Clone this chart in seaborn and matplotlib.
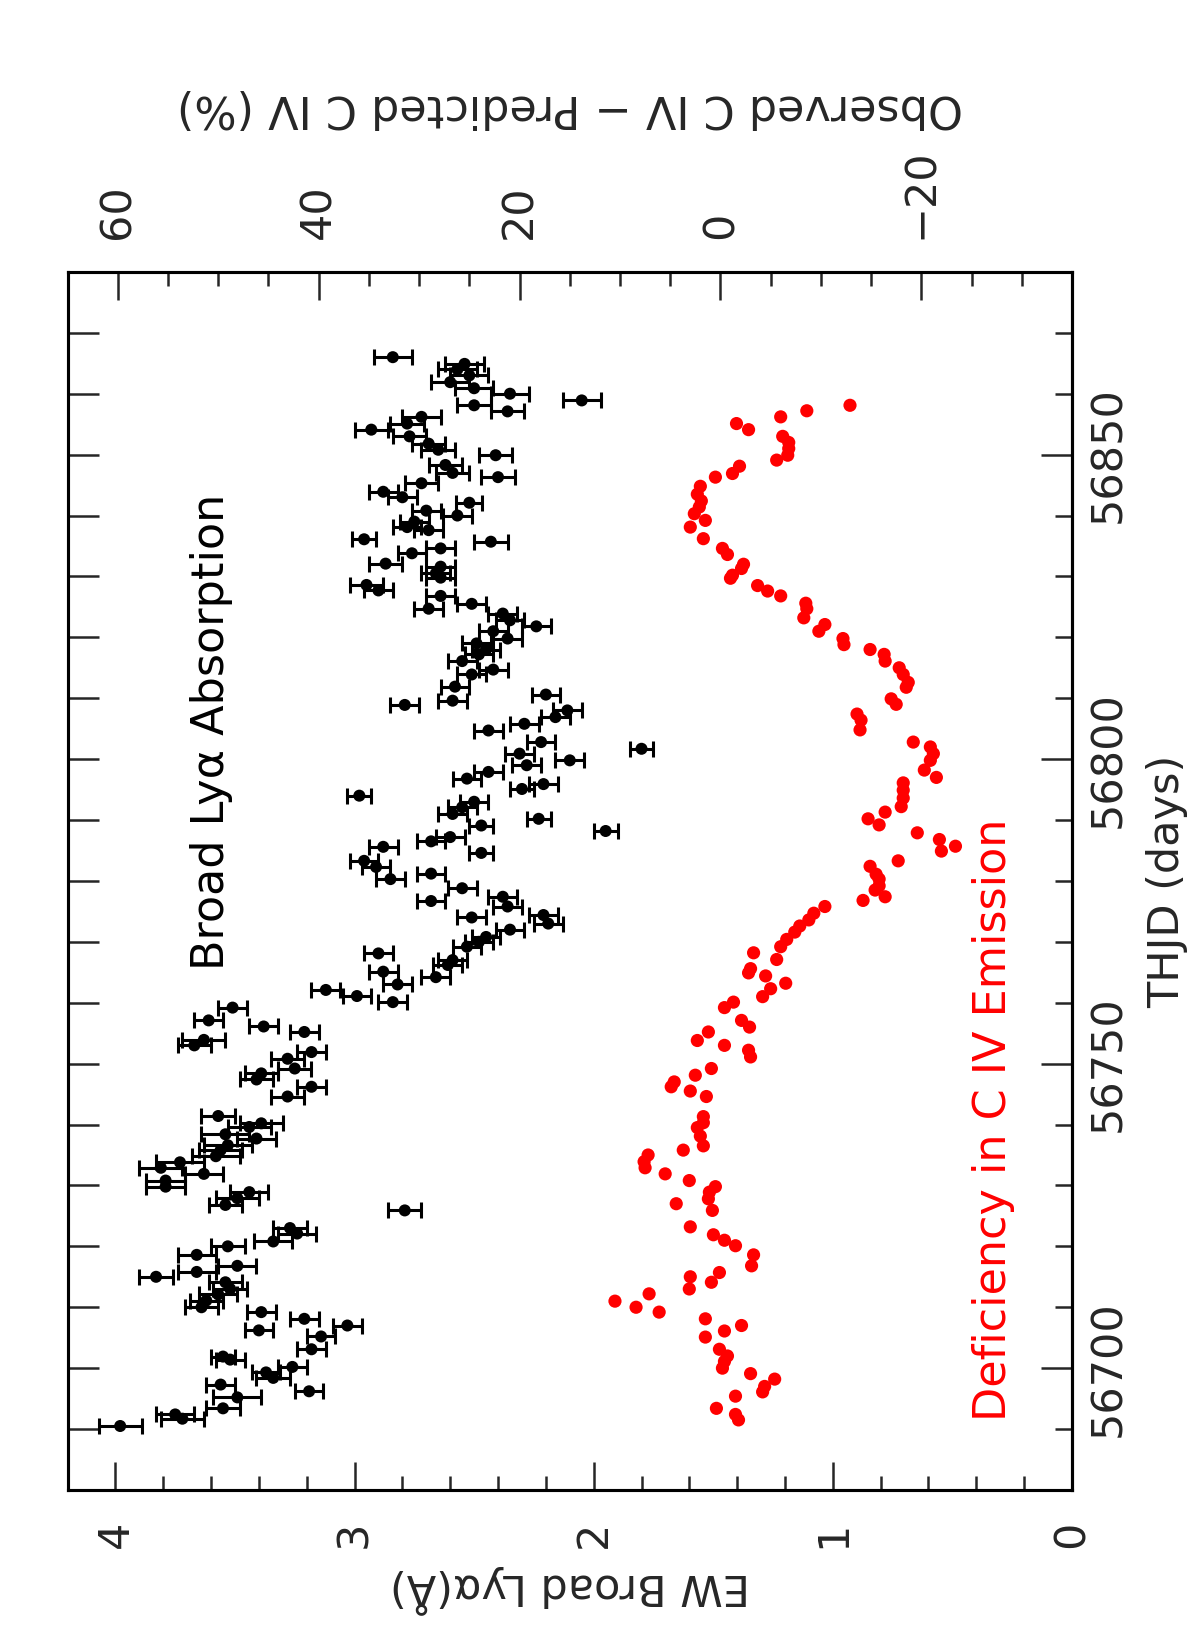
import matplotlib
matplotlib.use("Agg")
import matplotlib.pyplot as plt
import seaborn as sns
import pandas as pd
from matplotlib.ticker import MultipleLocator, FixedLocator

# Broad Ly-alpha absorption: time (THJD), equivalent width (A) and its error
thjd_lya = [56690.5, 56691.7, 56692.4, 56693.4, 56695.2, 56696.2, 56697.3, 56698.4, 56699.3, 56700.2,
            56701.4, 56701.9, 56703.1, 56705.2, 56706.2, 56707.0, 56708.1, 56709.2, 56710.0, 56711.1,
            56712.1, 56713.0, 56714.1, 56715.0, 56715.8, 56716.8, 56718.6, 56720.0, 56720.8, 56722.1,
            56723.0, 56725.9, 56726.8, 56727.9, 56728.9, 56729.8, 56730.8, 56731.9, 56732.9, 56733.8,
            56734.8, 56735.8, 56736.6, 56737.7, 56738.4, 56739.6, 56740.2, 56741.4, 56744.6, 56746.2,
            56747.4, 56748.4, 56749.2, 56750.8, 56751.9, 56753.0, 56753.9, 56755.2, 56756.1, 56757.1,
            56759.2, 56760.1, 56761.1, 56762.1, 56763.0, 56764.2, 56765.1, 56766.2, 56767.0, 56768.1,
            56769.2, 56770.0, 56770.8, 56772.0, 56773.0, 56774.0, 56774.4, 56775.8, 56776.7, 56777.4,
            56778.8, 56780.3, 56781.2, 56782.3, 56783.3, 56784.6, 56785.6, 56786.5, 56787.2, 56788.2,
            56789.1, 56790.2, 56791.0, 56792.1, 56793.0, 56794.0, 56795.1, 56795.9, 56796.8, 56797.9,
            56799.0, 56799.8, 56800.9, 56801.7, 56802.8, 56804.7, 56805.8, 56806.9, 56808.0, 56808.9,
            56809.6, 56810.6, 56811.9, 56813.9, 56814.7, 56816.1, 56817.2, 56818.0, 56819.0, 56819.8,
            56821.0, 56821.8, 56822.8, 56823.9, 56824.7, 56825.5, 56826.8, 56827.7, 56828.6, 56829.8,
            56830.5, 56831.6, 56832.1, 56833.8, 56834.6, 56835.7, 56836.1, 56837.6, 56838.1, 56839.0,
            56840.0, 56840.8, 56842.1, 56843.0, 56843.9, 56845.3, 56846.3, 56847.0, 56848.3, 56849.9,
            56850.8, 56851.8, 56853.0, 56854.1, 56855.1, 56856.2, 56857.1, 56858.1, 56858.9, 56860.0,
            56860.9, 56861.9, 56863.0, 56864.0, 56864.9, 56866.0]
ew_lya = [3.98, 3.72, 3.75, 3.55, 3.49, 3.19, 3.56, 3.34, 3.37, 3.26,
          3.52, 3.55, 3.18, 3.14, 3.40, 3.03, 3.21, 3.39, 3.64, 3.62,
          3.57, 3.52, 3.54, 3.83, 3.66, 3.49, 3.66, 3.53, 3.34, 3.24,
          3.27, 2.79, 3.54, 3.49, 3.44, 3.79, 3.79, 3.63, 3.81, 3.73,
          3.58, 3.56, 3.53, 3.41, 3.54, 3.44, 3.39, 3.57, 3.28, 3.18,
          3.41, 3.39, 3.25, 3.28, 3.18, 3.67, 3.63, 3.21, 3.38, 3.61,
          3.51, 2.84, 2.99, 3.12, 2.82, 2.66, 2.88, 2.61, 2.59, 2.90,
          2.53, 2.48, 2.45, 2.35, 2.19, 2.51, 2.21, 2.36, 2.68, 2.38,
          2.55, 2.85, 2.68, 2.91, 2.96, 2.47, 2.88, 2.68, 2.60, 1.95,
          2.47, 2.23, 2.59, 2.55, 2.50, 2.98, 2.30, 2.21, 2.53, 2.44,
          2.28, 2.10, 2.31, 1.80, 2.22, 2.44, 2.29, 2.16, 2.11, 2.79,
          2.59, 2.20, 2.58, 2.51, 2.42, 2.55, 2.48, 2.45, 2.49, 2.36,
          2.42, 2.24, 2.35, 2.38, 2.69, 2.51, 2.64, 2.90, 2.95, 2.64,
          2.66, 2.64, 2.87, 2.76, 2.64, 2.43, 2.96, 2.69, 2.78, 2.75,
          2.57, 2.70, 2.52, 2.80, 2.88, 2.72, 2.40, 2.59, 2.62, 2.41,
          2.65, 2.69, 2.77, 2.93, 2.78, 2.72, 2.36, 2.50, 2.05, 2.35,
          2.50, 2.60, 2.52, 2.57, 2.54, 2.84]
ew_err = [0.09, 0.09, 0.08, 0.07, 0.10, 0.06, 0.06, 0.07, 0.06, 0.06,
          0.06, 0.05, 0.06, 0.06, 0.06, 0.06, 0.06, 0.06, 0.07, 0.07,
          0.08, 0.07, 0.07, 0.07, 0.08, 0.08, 0.08, 0.07, 0.08, 0.08,
          0.07, 0.07, 0.07, 0.09, 0.08, 0.08, 0.08, 0.08, 0.09, 0.10,
          0.10, 0.09, 0.10, 0.08, 0.10, 0.09, 0.09, 0.07, 0.07, 0.06,
          0.07, 0.07, 0.07, 0.07, 0.06, 0.07, 0.09, 0.06, 0.06, 0.06,
          0.06, 0.06, 0.06, 0.06, 0.06, 0.06, 0.06, 0.06, 0.06, 0.06,
          0.06, 0.06, 0.06, 0.06, 0.06, 0.06, 0.06, 0.06, 0.06, 0.06,
          0.06, 0.06, 0.06, 0.06, 0.06, 0.05, 0.06, 0.06, 0.06, 0.05,
          0.05, 0.05, 0.06, 0.06, 0.06, 0.05, 0.05, 0.06, 0.06, 0.06,
          0.06, 0.06, 0.06, 0.05, 0.06, 0.06, 0.06, 0.06, 0.06, 0.06,
          0.06, 0.06, 0.06, 0.06, 0.06, 0.06, 0.06, 0.06, 0.06, 0.06,
          0.06, 0.06, 0.06, 0.06, 0.06, 0.06, 0.06, 0.06, 0.07, 0.06,
          0.06, 0.06, 0.07, 0.06, 0.06, 0.07, 0.05, 0.06, 0.06, 0.06,
          0.06, 0.06, 0.055, 0.06, 0.06, 0.07, 0.07, 0.07, 0.07, 0.07,
          0.07, 0.07, 0.07, 0.07, 0.07, 0.08, 0.07, 0.07, 0.08, 0.08,
          0.08, 0.08, 0.08, 0.08, 0.08, 0.08]

# C IV emission residual: observed - predicted (%)
thjd_civ = [56691.5, 56692.4, 56693.4, 56695.4, 56696.1, 56697.0, 56698.2, 56699.1, 56700.0, 56701.1,
            56702.0, 56703.1, 56705.1, 56706.1, 56707.0, 56708.1, 56709.2, 56710.0, 56711.0, 56712.2,
            56713.0, 56714.1, 56715.0, 56715.7, 56716.8, 56718.6, 56720.1, 56721.0, 56721.9, 56723.2,
            56725.9, 56727.0, 56727.8, 56728.9, 56729.8, 56730.8, 56731.9, 56732.9, 56733.9, 56735.0,
            56735.8, 56736.5, 56738.1, 56739.5, 56740.3, 56741.3, 56744.6, 56745.5, 56746.2, 56747.0,
            56748.1, 56749.2, 56751.1, 56752.2, 56753.0, 56753.8, 56755.2, 56756.0, 56757.1, 56759.2,
            56760.1, 56761.0, 56762.3, 56763.2, 56764.4, 56764.9, 56765.6, 56767.1, 56768.2, 56769.2,
            56770.4, 56771.6, 56772.6, 56773.6, 56774.7, 56775.8, 56776.8, 56777.4, 56778.5, 56779.2,
            56780.3, 56781.1, 56782.4, 56783.3, 56784.9, 56785.7, 56786.8, 56787.9, 56789.2, 56790.2,
            56791.3, 56792.2, 56793.6, 56794.9, 56796.1, 56797.0, 56798.2, 56799.8, 56800.9, 56802.0,
            56802.8, 56804.8, 56806.4, 56807.4, 56809.0, 56809.9, 56811.8, 56812.6, 56813.9, 56815.0,
            56816.1, 56817.2, 56818.0, 56818.8, 56819.8, 56821.0, 56822.1, 56823.2, 56824.7, 56825.6,
            56826.8, 56827.6, 56828.5, 56829.7, 56830.2, 56831.3, 56832.0, 56833.6, 56834.6, 56836.2,
            56838.1, 56839.2, 56840.3, 56841.4, 56842.4, 56843.5, 56844.8, 56846.3, 56846.9, 56848.1,
            56849.1, 56849.9, 56851.0, 56852.0, 56853.0, 56854.1, 56855.1, 56856.2, 56857.2, 56858.1]
civ_pct = [-1.8, -1.5, 0.4, -1.5, -4.2, -4.4, -5.4, -3.0, -0.2, -0.4,
           -0.7, 0.1, 1.5, -0.4, -2.1, 1.5, 6.1, 8.4, 10.5, 7.1,
           3.1, 0.9, 3.0, 0.1, -3.1, -3.3, -1.5, -0.4, 0.7, 3.0,
           0.8, 4.4, 1.2, 1.1, 0.5, 3.1, 5.5, 7.5, 7.6, 7.2,
           3.7, 1.7, 2.0, 2.3, 1.7, 1.7, 1.4, 3.0, 4.9, 4.6,
           2.5, 0.9, -3.0, -2.8, -0.4, 2.3, 1.2, -2.9, -2.1, -0.4,
           -1.3, -4.2, -5.0, -6.5, -4.5, -2.8, -3.0, -5.6, -3.3, -6.0,
           -6.6, -7.4, -7.9, -8.8, -9.3, -10.4, -14.2, -16.4, -15.4, -15.8,
           -15.8, -15.5, -14.9, -17.7, -22.0, -23.4, -21.8, -19.6, -15.8, -14.7,
           -16.4, -18.0, -18.2, -18.2, -18.2, -21.5, -20.3, -20.9, -21.2, -20.9,
           -19.2, -13.9, -14.0, -13.6, -17.5, -17.0, -18.5, -18.7, -18.2, -17.8,
           -16.4, -16.3, -14.9, -12.3, -12.2, -9.8, -10.4, -8.3, -8.6, -8.5,
           -6.0, -4.7, -3.7, -1.0, -1.2, -2.1, -2.3, -0.7, -0.2, 1.7,
           3.0, 1.5, 2.6, 2.1, 1.9, 2.3, 2.0, 0.5, -1.2, -1.9,
           -5.6, -6.7, -6.8, -6.8, -6.2, -2.8, -1.6, -6.0, -8.6, -12.9]

thjd_ticks = [56700, 56750, 56800, 56850]

lya = pd.DataFrame({"thjd": thjd_lya, "ew": ew_lya, "err": ew_err})
civ = pd.DataFrame({"thjd": thjd_civ, "pct": civ_pct})

sns.set_style("ticks", {"xtick.direction": "in", "ytick.direction": "in"})
plt.rcParams["font.family"] = ["DejaVu Sans"]

fig = plt.figure(figsize=(11.98, 16.5), dpi=100)
ax = fig.add_axes([0.0564, 0.097, 0.8384, 0.7382])
ax2 = ax.twiny()

# black points with horizontal error bars (EW axis runs right to left)
ax.errorbar(lya["ew"], lya["thjd"], xerr=lya["err"], fmt="none", ecolor="black",
            elinewidth=2.2, capsize=5.5, capthick=2.2, zorder=2)
sns.scatterplot(data=lya, x="ew", y="thjd", ax=ax, color="black", s=75,
                edgecolor="none", zorder=3, legend=False)
# red points on the top (percent) axis
sns.scatterplot(data=civ, x="pct", y="thjd", ax=ax2, color="red", s=90,
                edgecolor="none", legend=False)

ax.set_xlim(4.2, 0)
ax2.set_xlim(65, -35)
ax.set_ylim(56680, 56880)

# bottom axis: EW
ax.xaxis.set_major_locator(MultipleLocator(1))
ax.xaxis.set_minor_locator(MultipleLocator(0.2))
ax.tick_params(axis="x", which="major", direction="in", length=20, width=1.8,
               labelsize=31, labelrotation=90, pad=22)
ax.tick_params(axis="x", which="minor", direction="in", length=10, width=1.8)
ax.set_xlabel("EW Broad Lyα(Å)", fontsize=31, rotation=180, labelpad=12)

# left ticks every 10 days, no labels
ax.yaxis.set_major_locator(MultipleLocator(10))
ax.tick_params(axis="y", which="major", direction="in", left=True, right=False,
               labelleft=False, length=22, width=1.8)
ax.set_ylabel("")

# right axis: THJD
sec = ax.secondary_yaxis("right")
sec.yaxis.set_major_locator(FixedLocator(thjd_ticks))
sec.yaxis.set_minor_locator(MultipleLocator(10))
sec.tick_params(axis="y", which="major", direction="in", length=22, width=1.8,
                labelsize=31, labelrotation=90, pad=11)
sec.tick_params(axis="y", which="minor", direction="in", length=12, width=1.8)
for lbl in sec.yaxis.get_majorticklabels():
    lbl.set_verticalalignment("center")
sec.set_ylabel("THJD (days)", fontsize=31, rotation=90, labelpad=12)

# top axis: percent
ax2.xaxis.set_major_locator(MultipleLocator(20))
ax2.xaxis.set_minor_locator(MultipleLocator(5))
ax2.tick_params(axis="x", which="major", direction="in", length=20, width=1.8,
                labelsize=31, labelrotation=90, pad=24)
ax2.tick_params(axis="x", which="minor", direction="in", length=10, width=1.8)
ax2.set_xlabel("Observed C IV − Predicted C IV (%)", fontsize=32, rotation=180, labelpad=20)
ax2.set_ylabel("")

for a in (ax, ax2):
    for sp in a.spines.values():
        sp.set_linewidth(2.2)
        sp.set_color("black")
sec.spines["right"].set_linewidth(2.2)

ax.text(3.60, 56804.4, "Broad Lyα Absorption", rotation=90, ha="center", va="center",
        fontsize=32, color="black")
ax.text(0.33, 56740.8, "Deficiency in C IV Emission", rotation=90, ha="center", va="center",
        fontsize=32, color="red")

fig.savefig("out.png", dpi=100)
